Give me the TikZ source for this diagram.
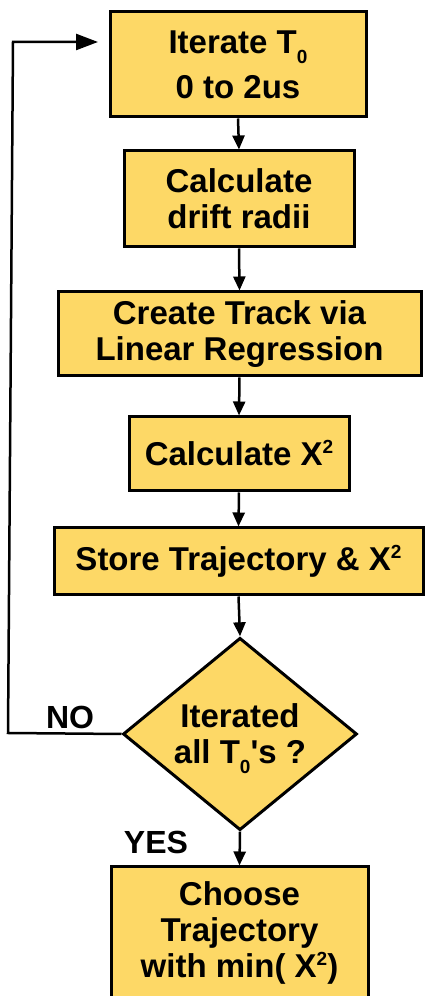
\documentclass[tikz,border=0pt]{standalone}
\usepackage{fontspec}
\setmainfont{Liberation Sans}
\usetikzlibrary{shapes.geometric,arrows.meta}
\definecolor{boxfill}{RGB}{253,216,102}
\newcommand{\subz}{\raisebox{-10pt}[0pt][0pt]{\fontsize{19}{19}\selectfont 0}}
\newcommand{\supt}{\raisebox{12pt}[0pt][0pt]{\fontsize{19}{19}\selectfont 2}}
\tikzset{
  x=1pt,y=1pt,
  stepbox/.style={draw=black, fill=boxfill, line width=3pt, align=center, inner sep=0pt,
    font=\fontsize{33}{36}\selectfont\bfseries},
  decide/.style={diamond, draw=black, fill=boxfill, line width=3pt, align=center, inner sep=0pt,
    font=\fontsize{33}{36}\selectfont\bfseries},
  flow/.style={line width=2.5pt, -{Triangle[length=14pt,width=12pt]}},
  lbl/.style={font=\fontsize{32}{36}\selectfont\bfseries, inner sep=0pt}
}
\begin{document}
\begin{tikzpicture}
\useasboundingbox (0,0) rectangle (425,996);
\node[stepbox, minimum width=256, minimum height=105] (b1) at (238,931.5) {Iterate T\subz\\[9pt]0 to 2us};
\node[stepbox, minimum width=230, minimum height=96] (b2) at (239,797) {Calculate\\drift radii};
\node[stepbox, minimum width=363, minimum height=84] (b3) at (239.5,662) {Create Track via\\Linear Regression};
\node[stepbox, minimum width=220, minimum height=74] (b4) at (239,542) {Calculate X\supt};
\node[stepbox, minimum width=369, minimum height=67] (b5) at (238.5,434.5) {Store Trajectory \& X\supt};
\node[decide, minimum width=234, minimum height=192] (d) at (240,262) {Iterated\\all T\subz\textquotesingle s ?};
\node[stepbox, minimum width=257, minimum height=132] (b7) at (239.5,63) {Choose\\Trajectory\\with min( X\supt)};
\node[lbl] (no) at (70,279) {NO};
\node[lbl] (yes) at (156,154) {YES};
\coordinate (c1) at (8,263);
\coordinate (c2) at (13,954);
\coordinate (c3) at (98,954);
\draw[flow] (b1.south) -- (b2.north);
\draw[flow] (b2.south) -- (b3.north);
\draw[flow] (b3.south) -- (b4.north);
\draw[flow] (b4.south) -- (b5.north);
\draw[flow] (b5.south) -- (d.north);
\draw[flow] (d.south) -- (b7.north);
\draw[line width=2.5pt, -{Triangle[length=22pt,width=16pt]}] (d.west) -- (c1) -- (c2) -- (c3);
\end{tikzpicture}
\end{document}
